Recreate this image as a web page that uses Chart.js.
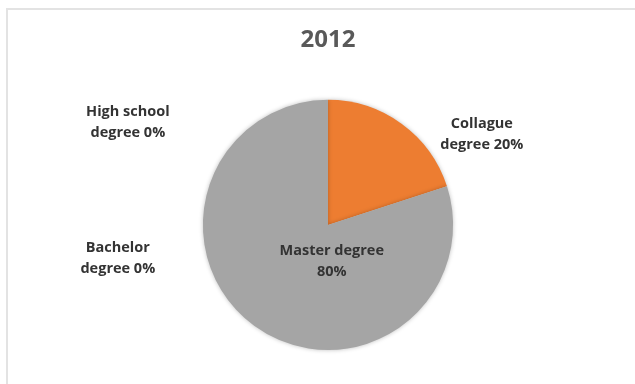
<!DOCTYPE html>
<html>
<head>
<meta charset="utf-8">
<script src="https://cdn.jsdelivr.net/npm/chart.js@4"></script>
<style>
  html, body { margin: 0; padding: 0; background: #fff; }
  #wrap { position: relative; width: 635px; height: 384px; }
  #frame { position: absolute; left: 6px; top: 8px; right: 0; bottom: 0;
           border-left: 2px solid #e3e3e3; border-top: 2px solid #e3e3e3; }
  canvas { position: absolute; left: 0; top: 0; }
</style>
</head>
<body>
<div id="wrap">
  <div id="frame"></div>
  <canvas id="pieChart" width="635" height="384"></canvas>
</div>
<script>
const title = '2012';
const categories = ['High school degree', 'Collague degree', 'Master degree', 'Bachelor degree'];
const shares = [0, 20, 80, 0];
const labelLines = [
    ['High school', 'degree 0%'],
    ['Collague', 'degree 20%'],
    ['Master degree', '80%'],
    ['Bachelor', 'degree 0%']
];
const colors = ['#4472C4', '#ED7D31', '#A5A5A5', '#FFC000'];

// where each label sits, relative to the pie centre in radius units
const labelSpots = [
    { dx: -1.6, dy: -0.82 },
    { dx: 1.23, dy: -0.72 },
    { dx: 0.03, dy: 0.29 },
    { dx: -1.68, dy: 0.27 }
];

const pieShadow = {
    id: 'pieShadow',
    beforeDatasetDraw(chart) {
        const ctx = chart.ctx;
        ctx.save();
        ctx.shadowColor = 'rgba(0,0,0,0.25)';
        ctx.shadowBlur = 4;
    },
    afterDatasetDraw(chart) {
        chart.ctx.restore();
    }
};

const sliceLabels = {
    id: 'sliceLabels',
    afterDatasetsDraw(chart) {
        const ctx = chart.ctx;
        const arc = chart.getDatasetMeta(0).data[0];
        const cx = arc.x, cy = arc.y, r = arc.outerRadius;
        ctx.save();
        ctx.font = 'bold 14.5px "Open Sans"';
        ctx.fillStyle = '#333333';
        ctx.textAlign = 'center';
        ctx.textBaseline = 'middle';
        labelLines.forEach(function(lines, i) {
            const x = cx + labelSpots[i].dx * r;
            const y = cy + labelSpots[i].dy * r;
            lines.forEach(function(line, j) {
                ctx.fillText(line, x, y + (j - (lines.length - 1) / 2) * 21);
            });
        });
        ctx.restore();
    }
};

const ctx = document.getElementById('pieChart').getContext('2d');
new Chart(ctx, {
    type: 'pie',
    data: {
        labels: categories,
        datasets: [{
            data: shares,
            backgroundColor: colors,
            borderWidth: 0
        }]
    },
    options: {
        responsive: false,
        animation: false,
        layout: { padding: { top: 0, bottom: 34, left: 100, right: 79 } },
        plugins: {
            legend: { display: false },
            tooltip: { enabled: false },
            title: {
                display: true,
                text: title,
                color: '#595959',
                font: { family: '"Open Sans"', size: 24, weight: 'bold' },
                padding: { top: 26, bottom: 45 }
            }
        }
    },
    plugins: [pieShadow, sliceLabels]
});
</script>
</body>
</html>
